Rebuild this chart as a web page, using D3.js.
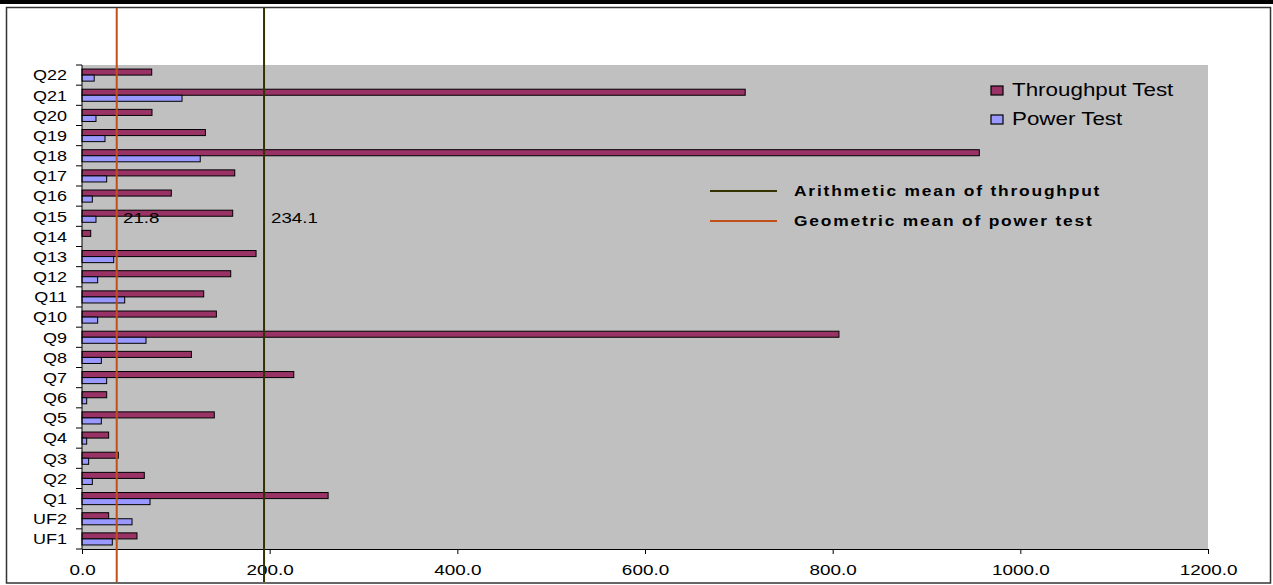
<!DOCTYPE html>
<html lang="en">

<head>
    <meta charset="UTF-8">
    <title>Throughput Test vs Power Test</title>
    <!-- Include D3.js -->
    <script src="https://d3js.org/d3.v7.min.js"></script>
    <style>
        body { margin: 0; background: #fff; }
        svg { display: block; font-family: Arial, "Liberation Sans", sans-serif; }
    </style>
</head>

<body>
    <div id="chart-container"></div>

    <script>
        // Queries, bottom to top as in the chart
        const categories = ['UF1', 'UF2', 'Q1', 'Q2', 'Q3', 'Q4', 'Q5', 'Q6', 'Q7', 'Q8', 'Q9', 'Q10',
            'Q11', 'Q12', 'Q13', 'Q14', 'Q15', 'Q16', 'Q17', 'Q18', 'Q19', 'Q20', 'Q21', 'Q22'];

        const throughputTest = [58.6, 28.4, 262.3, 66.4, 38.7, 28.4, 141.0, 26.3, 225.7, 116.6, 806.7, 143.2,
            129.7, 158.5, 185.5, 9.3, 160.6, 95.2, 162.8, 956.3, 131.5, 74.6, 706.8, 74.3];

        const powerTest = [32.3, 53.3, 72.5, 11.0, 7.1, 5.0, 20.6, 5.0, 26.3, 20.6, 68.2, 16.7,
            45.5, 16.7, 33.8, 0, 14.9, 11.0, 26.3, 126.0, 24.5, 14.9, 106.6, 13.0];

        const seriesNames = ['Throughput Test', 'Power Test'];
        const xTicks = [0, 200, 400, 600, 800, 1000, 1200];

        // mean lines: where they are drawn and the text written beside them
        const meanNames = ['Arithmetic mean of throughput', 'Geometric mean of power test'];
        const meanValues = [194.0, 37.0];
        const meanLabels = ['234.1', '21.8'];

        const width = 1273;
        const height = 585;
        const margin = { top: 65, right: 65, bottom: 36, left: 82 };
        const plotW = 1208 - margin.left;
        const plotH = 549 - margin.top;

        const colors = ['#993366', '#9999FF'];
        const meanColors = ['#333300', '#C0501A'];

        // the original text is wide, so glyphs get stretched sideways
        function addText(parent, x, y, str, size, sx) {
            return parent.append('text')
                .attr('transform', `translate(${x},${y}) scale(${sx},1)`)
                .style('font-size', size + 'px')
                .text(str);
        }

        const svg = d3.select('#chart-container')
            .append('svg')
            .attr('width', width)
            .attr('height', height);

        // chart frame
        svg.append('rect')
            .attr('x', 0).attr('y', 0)
            .attr('width', width).attr('height', 4)
            .attr('fill', '#000');
        svg.append('rect')
            .attr('x', 6.5).attr('y', 7.5)
            .attr('width', 1264).attr('height', 575.5)
            .attr('fill', '#fff')
            .attr('stroke', '#333')
            .attr('stroke-width', 1.5);

        const g = svg.append('g')
            .attr('transform', `translate(${margin.left},${margin.top})`);

        // plot area
        g.append('rect')
            .attr('width', plotW)
            .attr('height', plotH)
            .attr('fill', '#C0C0C0');

        // Scales
        const x = d3.scaleLinear()
            .domain([0, 1200])
            .range([0, plotW]);

        const y = d3.scaleBand()
            .domain(categories.slice().reverse())
            .range([0, plotH])
            .padding(0);

        const ySub = d3.scaleBand()
            .domain(seriesNames)
            .range([y.bandwidth() * 0.2, y.bandwidth() * 0.8]);

        const rows = categories.map((c, i) => ({ key: c, values: [throughputTest[i], powerTest[i]] }));

        // Draw the bars
        const groups = g.selectAll('.row')
            .data(rows)
            .enter()
            .append('g')
            .attr('class', 'row')
            .attr('transform', d => `translate(0,${y(d.key)})`);

        groups.selectAll('rect')
            .data(d => d.values.map((v, i) => ({ name: seriesNames[i], value: v, i: i })).filter(e => e.value > 0))
            .enter()
            .append('rect')
            .attr('x', 0)
            .attr('y', d => ySub(d.name))
            .attr('width', d => x(d.value))
            .attr('height', ySub.bandwidth())
            .attr('fill', d => colors[d.i])
            .attr('stroke', '#000')
            .attr('stroke-width', 1);

        // y axis: line and ticks at band edges, labels in the middle
        g.append('line')
            .attr('x1', 0).attr('x2', 0)
            .attr('y1', 0).attr('y2', plotH)
            .attr('stroke', '#000');

        const edges = categories.map(c => y(c)).concat([plotH]);
        g.selectAll('.ytick')
            .data(edges)
            .enter()
            .append('line')
            .attr('x1', -6).attr('x2', 0)
            .attr('y1', d => d).attr('y2', d => d)
            .attr('stroke', '#000');

        categories.forEach(c => {
            addText(g, -15, y(c) + y.bandwidth() / 2 + 5.4, c, 15, 1.2)
                .attr('text-anchor', 'end');
        });

        // x axis
        const xAxis = g.append('g')
            .attr('transform', `translate(0,${plotH})`)
            .call(d3.axisBottom(x).tickValues(xTicks).tickFormat(d3.format('.1f')).tickSize(5).tickSizeOuter(0));
        xAxis.select('.domain').attr('stroke', '#000');
        xAxis.selectAll('.tick line').attr('stroke', '#000');
        xAxis.selectAll('.tick text')
            .attr('y', null)
            .attr('dy', null)
            .attr('transform', 'translate(0,26) scale(1.26,1)')
            .attr('fill', '#000')
            .style('font-family', 'Arial, "Liberation Sans", sans-serif')
            .style('font-size', '15px');

        // mean lines, over the whole chart height
        meanValues.forEach((v, i) => {
            svg.append('line')
                .attr('x1', margin.left + x(v)).attr('x2', margin.left + x(v))
                .attr('y1', 8).attr('y2', 582)
                .attr('stroke', meanColors[i])
                .attr('stroke-width', 2);
        });

        // mean value labels
        const labelX = [271, 123];
        meanLabels.forEach((t, i) => {
            addText(svg, labelX[i], 223, t, 15, 1.25);
        });

        // series legend
        const legend1 = [86, 115];
        seriesNames.forEach((n, i) => {
            svg.append('rect')
                .attr('x', 991).attr('y', legend1[i])
                .attr('width', 12).attr('height', 9)
                .attr('fill', colors[i])
                .attr('stroke', '#000')
                .attr('stroke-width', 1.2);
            addText(svg, 1012, legend1[i] + 9.5, n, 17.5, 1.28);
        });

        // mean lines legend
        const legend2 = [191, 221];
        meanNames.forEach((n, i) => {
            svg.append('line')
                .attr('x1', 710).attr('x2', 777)
                .attr('y1', legend2[i]).attr('y2', legend2[i])
                .attr('stroke', meanColors[i])
                .attr('stroke-width', 2);
            addText(svg, 794, legend2[i] + 5, n, 14.5, 1.2)
                .style('font-weight', 'bold')
                .style('letter-spacing', '1.5px');
        });
    </script>

</body>

</html>
